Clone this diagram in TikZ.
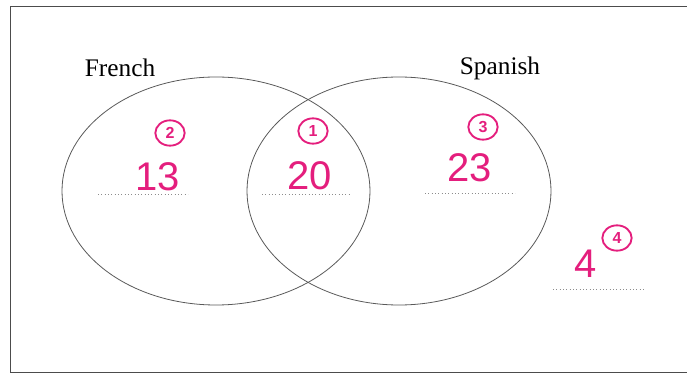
\documentclass[tikz,border=0pt]{standalone}
\usepackage{fontspec}
\setmainfont{Liberation Serif}
\newfontfamily\handfont{Liberation Sans}
\usepackage{tikz}
\usetikzlibrary{positioning,shapes.geometric}
\definecolor{inkpink}{RGB}{228,30,125}

\begin{document}
\begin{tikzpicture}[x=0.75pt, y=-0.75pt,
    setring/.style={draw=black!65, line width=0.6pt},
    setlabel/.style={font=\fontsize{19}{22}\selectfont, inner sep=0pt},
    answer/.style={font=\handfont\fontsize{30}{33}\selectfont, text=inkpink, inner sep=0pt},
    qnum/.style={ellipse, draw=inkpink, line width=1.4pt, minimum width=22pt, minimum height=19pt, inner sep=0pt, text=inkpink, font=\handfont\bfseries\fontsize{12}{12}\selectfont},
    blank/.style={draw=black!45, line width=0.5pt, dotted}
]

% Frame
\useasboundingbox (0,0) rectangle (687,374);
\draw [black!70, line width=0.6pt] (687,6) -- (10,6) -- (10,372) -- (687,372);

% Sets
\draw [setring] (216,191) ellipse [x radius=154, y radius=114];
\draw [setring] (399,191) ellipse [x radius=152, y radius=114];

% Set labels
\node at (120,68) [setlabel] (french) {French};
\node at (500,68) [setlabel] (spanish) {Spanish};

% French only
\node at (170,133) [qnum] (q2) {2};
\node at (158,177) [answer] (a13) {13};
\draw [blank] (98,194) -- (188,194);

% Both
\node at (313,131) [qnum] (q1) {1};
\node at (310,176) [answer] (a20) {20};
\draw [blank] (262,194) -- (350,194);

% Spanish only
\node at (483,127) [qnum] (q3) {3};
\node at (470,168) [answer] (a23) {23};
\draw [blank] (425,193) -- (515,193);

% Neither
\node at (586,264) [answer] (a4) {4};
\node at (617,238) [qnum] (q4) {4};
\draw [blank] (553,289) -- (645,289);

\end{tikzpicture}
\end{document}
